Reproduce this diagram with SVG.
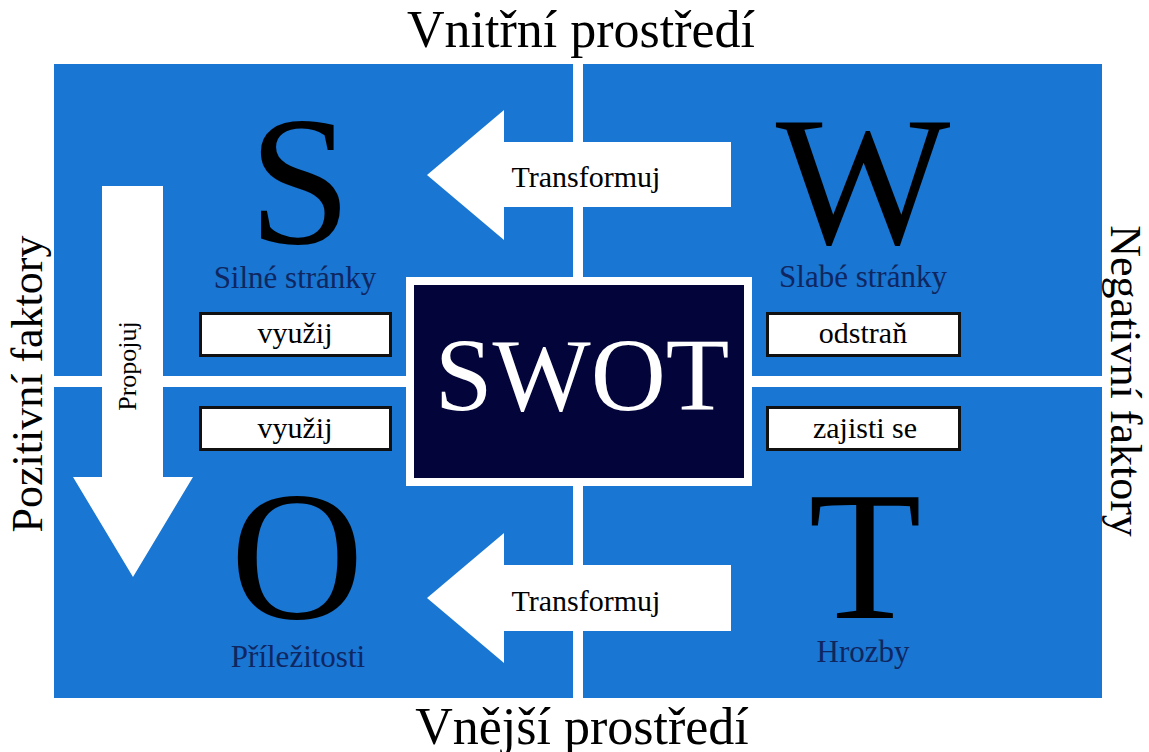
<svg xmlns="http://www.w3.org/2000/svg" width="1149" height="752" viewBox="0 0 1149 752">
<style>
text{font-family:"Liberation Serif","Times New Roman",serif;}
.quad{fill:#1976d2;}
.big{font-size:185px;fill:#000;text-anchor:middle;}
.lbl{font-size:31px;fill:#0f2660;text-anchor:middle;}
.box{fill:#fff;stroke:#111;stroke-width:3;}
.btxt{font-size:30px;fill:#000;text-anchor:middle;}
.arrow{fill:#fff;}
.atxt{font-size:30px;fill:#000;text-anchor:middle;}
.side{font-size:44px;fill:#000;text-anchor:middle;}
.title{font-size:52px;fill:#000;text-anchor:middle;}
</style>
<rect width="1149" height="752" fill="#fff"/>
<g id="quadrants">
<rect class="quad" x="54" y="64" width="519" height="312"/>
<rect class="quad" x="583" y="64" width="519" height="312"/>
<rect class="quad" x="54" y="387" width="519" height="311"/>
<rect class="quad" x="583" y="387" width="519" height="311"/>
</g>
<g id="titles">
<text class="title" x="581" y="47">Vnitřní prostředí</text>
<text class="title" x="582" y="744">Vnější prostředí</text>
<text class="side" transform="translate(42,384) rotate(-90)">Pozitivní faktory</text>
<text class="side" transform="translate(1111,381) rotate(90)">Negativní faktory</text>
</g>
<g id="connectors">
<polygon id="arrow-transform-top" class="arrow" points="427,175 504,110 504,142 731,142 731,207 504,207 504,240"/>
<polygon id="arrow-transform-bottom" class="arrow" points="427,598 504,533 504,565 731,565 731,631 504,631 504,663"/>
<polygon id="arrow-propojuj" class="arrow" points="102,186 163,186 163,477 193,477 133,577 73,477 102,477"/>
<text class="atxt" x="586" y="187">Transformuj</text>
<text class="atxt" x="586" y="611">Transformuj</text>
<text class="atxt" style="font-size:26px" transform="translate(136,366) rotate(-90)">Propojuj</text>
</g>
<g id="node-swot">
<rect x="406" y="277" width="346" height="209" fill="#fff"/>
<rect x="414" y="285" width="330" height="193" fill="#03053a"/>
<text x="582" y="410" style="font-size:104px" fill="#fff" text-anchor="middle">SWOT</text>
</g>
<g id="node-s">
<text class="big" x="300" y="243">S</text>
<text class="lbl" x="295" y="288">Silné stránky</text>
<rect class="box" x="200.5" y="313.5" width="190" height="42"/>
<text class="btxt" x="295" y="343">využij</text>
</g>
<g id="node-w">
<text class="big" x="863" y="243">W</text>
<text class="lbl" x="863" y="287">Slabé stránky</text>
<rect class="box" x="767.5" y="313.5" width="192" height="42"/>
<text class="btxt" x="863" y="343">odstraň</text>
</g>
<g id="node-o">
<rect class="box" x="200.5" y="407.5" width="190" height="42"/>
<text class="btxt" x="295" y="438">využij</text>
<text class="big" x="297" y="618">O</text>
<text class="lbl" x="298" y="667">Příležitosti</text>
</g>
<g id="node-t">
<rect class="box" x="767.5" y="407.5" width="192" height="42"/>
<text class="btxt" x="865" y="438">zajisti se</text>
<text class="big" x="865" y="618">T</text>
<text class="lbl" x="863" y="662">Hrozby</text>
</g>
</svg>
